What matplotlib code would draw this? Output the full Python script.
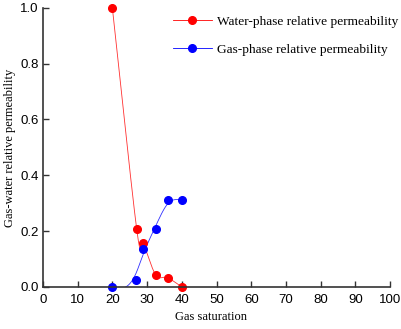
import numpy as np
import matplotlib
matplotlib.use("Agg")
import matplotlib.pyplot as plt

# data
water_sg = [20.0, 27.0, 28.9, 32.5, 35.9, 40.0]
water_kr = [1.0, 0.208, 0.157, 0.043, 0.033, 0.0]
gas_sg = [20.0, 26.8, 28.7, 32.5, 35.9, 40.0]
gas_kr = [0.0, 0.023, 0.136, 0.207, 0.311, 0.311]

x_ticks = [0, 10, 20, 30, 40, 50, 60, 70, 80, 90, 100]
y_ticks = [0.0, 0.2, 0.4, 0.6, 0.8, 1.0]

SX, SY = 3.47, 279.0  # data -> pixel scale, so the curve bends as on screen


def catmull_rom(x, y, n=40, alpha=0.0):
    # Catmull-Rom through the points (alpha=0 -> uniform)
    P = np.column_stack([np.asarray(x) * SX, np.asarray(y) * SY])
    P = np.vstack([2 * P[0] - P[1], P, 2 * P[-1] - P[-2]])
    out = []
    for i in range(1, len(P) - 2):
        p0, p1, p2, p3 = P[i - 1:i + 3]
        t0 = 0.0
        t1 = t0 + np.linalg.norm(p1 - p0) ** alpha
        t2 = t1 + np.linalg.norm(p2 - p1) ** alpha
        t3 = t2 + np.linalg.norm(p3 - p2) ** alpha
        t = np.linspace(t1, t2, n)[:, None]
        a1 = (t1 - t) / (t1 - t0) * p0 + (t - t0) / (t1 - t0) * p1
        a2 = (t2 - t) / (t2 - t1) * p1 + (t - t1) / (t2 - t1) * p2
        a3 = (t3 - t) / (t3 - t2) * p2 + (t - t2) / (t3 - t2) * p3
        b1 = (t2 - t) / (t2 - t0) * a1 + (t - t0) / (t2 - t0) * a2
        b2 = (t3 - t) / (t3 - t1) * a2 + (t - t1) / (t3 - t1) * a3
        out.append((t2 - t) / (t2 - t1) * b1 + (t - t1) / (t2 - t1) * b2)
    c = np.vstack(out)
    return c[:, 0] / SX, c[:, 1] / SY


def smooth(x, y, lam, step=0.1):
    # penalised least squares (discrete smoothing spline) on a fine grid
    x = np.asarray(x, float)
    y = np.asarray(y, float)
    grid = np.arange(x[0], x[-1] + step / 2, step)
    n = len(grid)
    B = np.zeros((len(x), n))
    for i, xi in enumerate(x):
        j = min(int((xi - grid[0]) / step), n - 2)
        f = (xi - grid[j]) / step
        B[i, j] = 1 - f
        B[i, j + 1] = f
    w = np.ones(len(x))
    w[0] = w[-1] = 50.0
    D = np.diff(np.eye(n), 2, axis=0) / step ** 2
    A = B.T @ (w[:, None] * B) + lam * D.T @ D
    return grid, np.linalg.solve(A, B.T @ (w * y))


fig = plt.figure(figsize=(4.01, 3.29), dpi=100)
ax = fig.add_axes([0.107, 0.128, 0.866, 0.848])

cx, cy = catmull_rom(water_sg, water_kr)
ax.plot(cx, cy, color="#ff3030", lw=0.6)
cx, cy = smooth(gas_sg, gas_kr, lam=0.3)
ax.plot(cx, cy, color="#3030ff", lw=0.6)

ax.plot(water_sg, water_kr, "o", color="red", ms=5.5, clip_on=False)
ax.plot(gas_sg, gas_kr, "o", color="blue", ms=5.5, clip_on=False)

# legend proxies
ax.plot([], [], "-o", color="red", lw=0.6, ms=5.5,
        label="Water-phase relative permeability")
ax.plot([], [], "-o", color="blue", lw=0.6, ms=5.5,
        label="Gas-phase relative permeability")
ax.legend(loc="upper left", bbox_to_anchor=(0.34, 1.015), frameon=False,
          prop={"family": "Liberation Serif", "size": 9.6},
          handlelength=2.9, handletextpad=0.4, labelspacing=1.15, numpoints=1)

ax.set_xlim(0, 100)
ax.set_ylim(0, 1.0)
ax.set_xticks(x_ticks)
ax.set_yticks(y_ticks)
ax.set_yticklabels([f"{v:.1f}" for v in y_ticks])
ax.spines["top"].set_visible(False)
ax.spines["right"].set_visible(False)
for s in ("left", "bottom"):
    ax.spines[s].set_linewidth(1.2)
    ax.spines[s].set_color("#333333")
ax.tick_params(direction="in", length=4, width=1.0, color="#333333",
               labelsize=9.5)
ax.tick_params(axis="x", pad=5)
ax.tick_params(axis="y", pad=3)
for lab in ax.get_xticklabels() + ax.get_yticklabels():
    lab.set_family("Liberation Sans")

ax.set_xlabel("Gas saturation", family="Liberation Serif", fontsize=9,
              labelpad=5)
ax.xaxis.set_label_coords(0.485, -0.085)
ax.set_ylabel("Gas-water relative permeability", family="Liberation Serif",
              fontsize=9, labelpad=3)

fig.savefig("out.png", dpi=100)
